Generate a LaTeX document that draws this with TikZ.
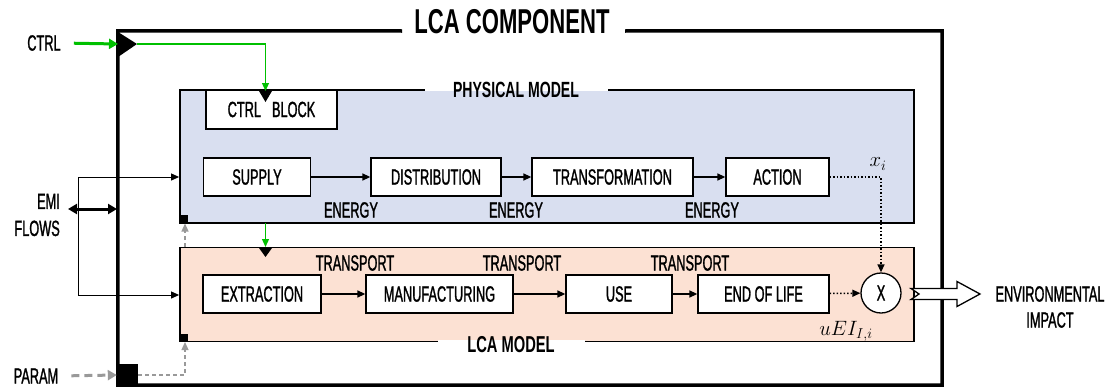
\documentclass[tikz,border=0pt]{standalone}
\usepackage{fontspec}
\setmainfont[FakeStretch=0.64]{Liberation Sans}
\newfontfamily\lblfam[FakeStretch=0.58,FakeBold=1.2]{Liberation Sans}
\newfontfamily\titlefam[FakeStretch=0.64]{Liberation Sans}
\usetikzlibrary{arrows.meta}
\definecolor{physblue}{HTML}{D9DFF0}
\definecolor{lcapeach}{HTML}{FCE1D3}
\definecolor{ctrlgreen}{HTML}{00C000}
\definecolor{paramgrey}{HTML}{999999}
\newcommand\lblfont{\lblfam\fontsize{22}{26}\selectfont}
\begin{document}
\begin{tikzpicture}[x=1pt,y=-1pt,
  blk/.style={draw, line width=1.3pt, fill=white, inner sep=0pt, font=\lblfont, minimum height=38pt},
  tag/.style={font=\lblfont, inner sep=0pt},
  model/.style={draw, line width=1.8pt, inner sep=0pt},
  tri/.style={-{Triangle[length=8pt,width=7pt]}},
  arr/.style={line width=1.3pt, tri},
  thinarr/.style={line width=1pt, tri},
  greyarr/.style={paramgrey, line width=1.2pt, dash pattern=on 4pt off 3pt, tri},
  dotarr/.style={line width=1.5pt, dotted, tri}]
\useasboundingbox (0,0) rectangle (1111,388);

% outer component frame
\node[inner sep=0, minimum width=824pt, minimum height=354pt] (comp) at (530,208) {};
\draw[line width=3.5pt] (402,31) -- (comp.north west) -- (comp.south west) -- (comp.south east) -- (comp.north east) -- (625,31);
\node[font=\titlefam\bfseries\fontsize{34.5}{36}\selectfont, inner sep=0] (comptitle) at (512,22) {LCA COMPONENT};

% physical model
\node[model, fill=physblue, minimum width=734pt, minimum height=133pt] (phys) at (547,156.5) {};
\fill[white] (425,85) rectangle (608,91);
\node[font=\titlefam\bfseries\fontsize{22}{24}\selectfont, inner sep=0] (phystitle) at (516,90) {PHYSICAL MODEL};

% LCA model
\node[model, fill=lcapeach, minimum width=734pt, minimum height=94pt] (lca) at (547,294.5) {};
\fill[white] (438,339.5) rectangle (585,347);
\node[font=\titlefam\bfseries\fontsize{23}{24}\selectfont, inner sep=0] (lcatitle) at (511,345) {LCA MODEL};

% corner squares
\fill (180,215) rectangle (188,223);
\fill (180,334) rectangle (188,342);

% ctrl block
\node[blk, minimum width=131pt, minimum height=39pt] (ctrlblock) at (271.5,109.5) {CTRL\enspace BLOCK};

% physical chain
\node[blk, minimum width=107pt] (supply) at (257,177) {SUPPLY};
\node[blk, minimum width=130pt] (distr) at (436,177) {DISTRIBUTION};
\node[blk, minimum width=161pt] (transf) at (612.5,177) {TRANSFORMATION};
\node[blk, minimum width=103pt] (action) at (777.5,177) {ACTION};
\draw[arr] (supply) -- (distr);
\draw[arr] (distr) -- (transf);
\draw[arr] (transf) -- (action);
\node[tag] (en1) at (351,210) {ENERGY};
\node[tag] (en2) at (516,210) {ENERGY};
\node[tag] (en3) at (712,210) {ENERGY};

% LCA chain
\node[blk, minimum width=118pt] (extr) at (262,294) {EXTRACTION};
\node[blk, minimum width=147pt] (manuf) at (439.5,294) {MANUFACTURING};
\node[blk, minimum width=106pt] (use) at (619,294) {USE};
\node[blk, minimum width=131pt] (eol) at (763.5,294) {END OF LIFE};
\draw[arr] (extr) -- (manuf);
\draw[arr] (manuf) -- (use);
\draw[arr] (use) -- (eol);
\node[tag] (tr1) at (355,263) {TRANSPORT};
\node[tag] (tr2) at (522,263) {TRANSPORT};
\node[tag] (tr3) at (690,263) {TRANSPORT};

% multiplier
\node[circle, draw, line width=1.3pt, fill=white, minimum size=40pt, inner sep=0, font=\lblfont] (mult) at (881,293) {X};
\node[font=\fontsize{21}{22}\selectfont, inner sep=0] (xi) at (878,164) {$x_i$};
\node[font=\fontsize{21}{22}\selectfont, inner sep=0] (uei) at (846,331) {$uEI_{I,i}$};
\draw[dotarr] (action.east) -| (mult.north);
\draw[dotarr] (eol) -- (mult);

% output arrow
\coordinate (outtail) at (911,294);
\draw[line width=1.3pt, fill=white] (911,288.5) -- (957,288.5) -- (957,281.5) -- (980,294) -- (957,306.5) -- (957,299.5) -- (911,299.5) -- (919,294) -- cycle;
\node[tag, align=center] (envimp) at (1050,307) {ENVIRONMENTAL\\IMPACT};

% CTRL input
\node[tag] (ctrl) at (44,43) {CTRL};
\coordinate (ctrlin) at (118,44);
\coordinate (ctrltip) at (137,44);
\fill (118,32) -- (ctrltip) -- (118,57) -- cycle;
\draw[ctrlgreen, line width=3pt, -{Triangle[length=9pt,width=10pt]}, shorten <=13pt] (ctrl.east) -- (ctrlin);
\coordinate (cbin) at (265.5,91);
\draw[ctrlgreen, line width=1.2pt, tri] (ctrltip) -| (cbin);
\fill (259,91) -- (272,91) -- (265.5,102) -- cycle;
\coordinate (physout) at (265.5,223);
\coordinate (lcain) at (265.5,247);
\draw[ctrlgreen, line width=1.2pt, tri] (physout) -- (lcain);
\fill (259,248) -- (272,248) -- (265.5,257) -- cycle;

% EMI flows
\node[font=\lblfam\fontsize{22}{27}\selectfont, inner sep=0, align=right, anchor=east] (emi) at (60,215) {EMI\\FLOWS};
\coordinate (emiin) at (117,209);
\draw[line width=3pt, {Triangle[length=9pt,width=10pt]}-{Triangle[length=9pt,width=10pt]}, shorten <=8pt] (emi.east |- emiin) -- (emiin);
\coordinate (e1) at (78,177);
\coordinate (e2) at (78,295);
\draw[line width=1pt] (e1) -- (e2);
\draw[thinarr] (e1) -- (e1 -| phys.west);
\draw[thinarr] (e2) -- (e2 -| lca.west);

% PARAM
\node[tag] (param) at (36,376) {PARAM};
\node[fill, inner sep=0, minimum width=21pt, minimum height=22pt] (pblock) at (127.5,375) {};
\draw[paramgrey, line width=3pt, dash pattern=on 8pt off 5pt, -{Triangle[length=9pt,width=10pt]}, shorten <=13pt] (param.east) -- (pblock.west);
\coordinate (pcol) at (185,342);
\draw[greyarr] (pblock.east) -| (pcol);
\coordinate (pcol2) at (185,247);
\coordinate (pcol3) at (185,223.5);
\draw[greyarr] (pcol2) -- (pcol3);
\end{tikzpicture}
\end{document}
